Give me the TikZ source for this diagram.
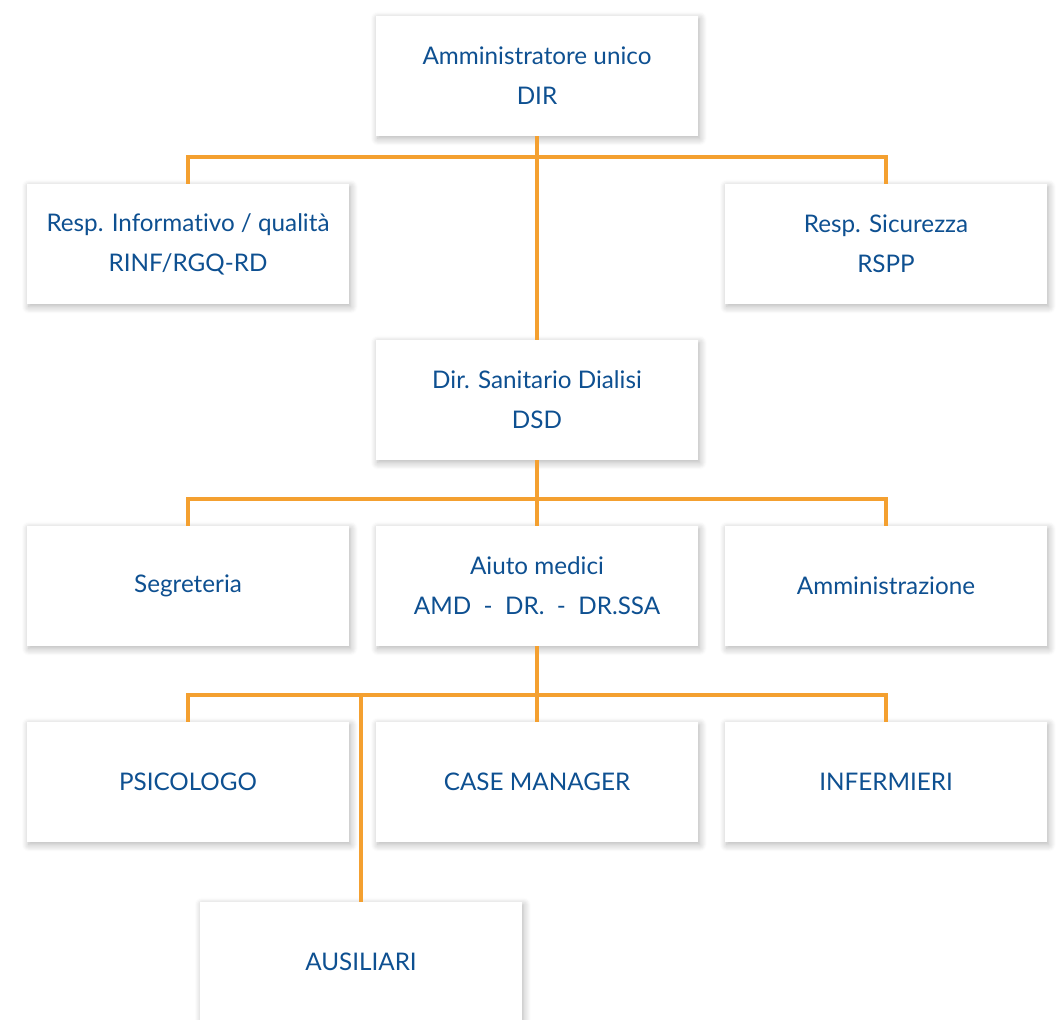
\documentclass[tikz,border=0pt]{standalone}
\usepackage{fontspec}
\setmainfont{Lato}[Ligatures=NoCommon]
\usetikzlibrary{positioning,shadows.blur}
\definecolor{orglink}{RGB}{244,160,48}
\definecolor{orgtext}{RGB}{14,80,145}
\tikzstyle{box} = [rectangle, fill=white, minimum width=6.44cm, minimum height=2.4cm, align=center, text=orgtext, font=\fontsize{13.8}{22.8}\selectfont, blur shadow={shadow xshift=1pt, shadow yshift=-1.5pt, shadow blur steps=8, shadow opacity=30, shadow blur radius=4pt}]
\tikzstyle{link} = [orglink, line width=2pt]

\begin{document}
\begin{tikzpicture}[x=0.02cm, y=-0.02cm]
      \useasboundingbox (0,0) rectangle (1058,1019);
      \node[box] (dir) at (537,76) {Amministratore unico\\DIR};
      \node[box] (rinf) at (188,244) {Resp. Informativo / qualità\\RINF/RGQ-RD};
      \node[box] (rspp) at (886,244) {Resp. Sicurezza\\RSPP};
      \node[box] (dsd) at (537,400) {Dir. Sanitario Dialisi\\DSD};
      \node[box] (segr) at (188,586) {Segreteria};
      \node[box] (amd) at (537,586) {Aiuto medici\\AMD\ \ -\ \ DR.\ \ -\ \ DR.SSA};
      \node[box] (amm) at (886,586) {Amministrazione};
      \node[box] (psi) at (188,782) {PSICOLOGO};
      \node[box] (cm) at (537,782) {CASE MANAGER};
      \node[box] (inf) at (886,782) {INFERMIERI};
      \node[box] (aus) at (361,962) {AUSILIARI};
      \coordinate (h1) at (537,157);
      \coordinate (h2) at (537,499);
      \coordinate (h3) at (537,695);
      \draw[link] (dir)--(dsd);
      \draw[link] (rinf.north) |- (h1) -| (rspp.north);
      \draw[link] (dsd)--(amd);
      \draw[link] (segr.north) |- (h2) -| (amm.north);
      \draw[link] (amd)--(cm);
      \draw[link] (psi.north) |- (h3) -| (inf.north);
      \draw[link] (aus.north)--(aus.north |- h3);
\end{tikzpicture}
\end{document}
